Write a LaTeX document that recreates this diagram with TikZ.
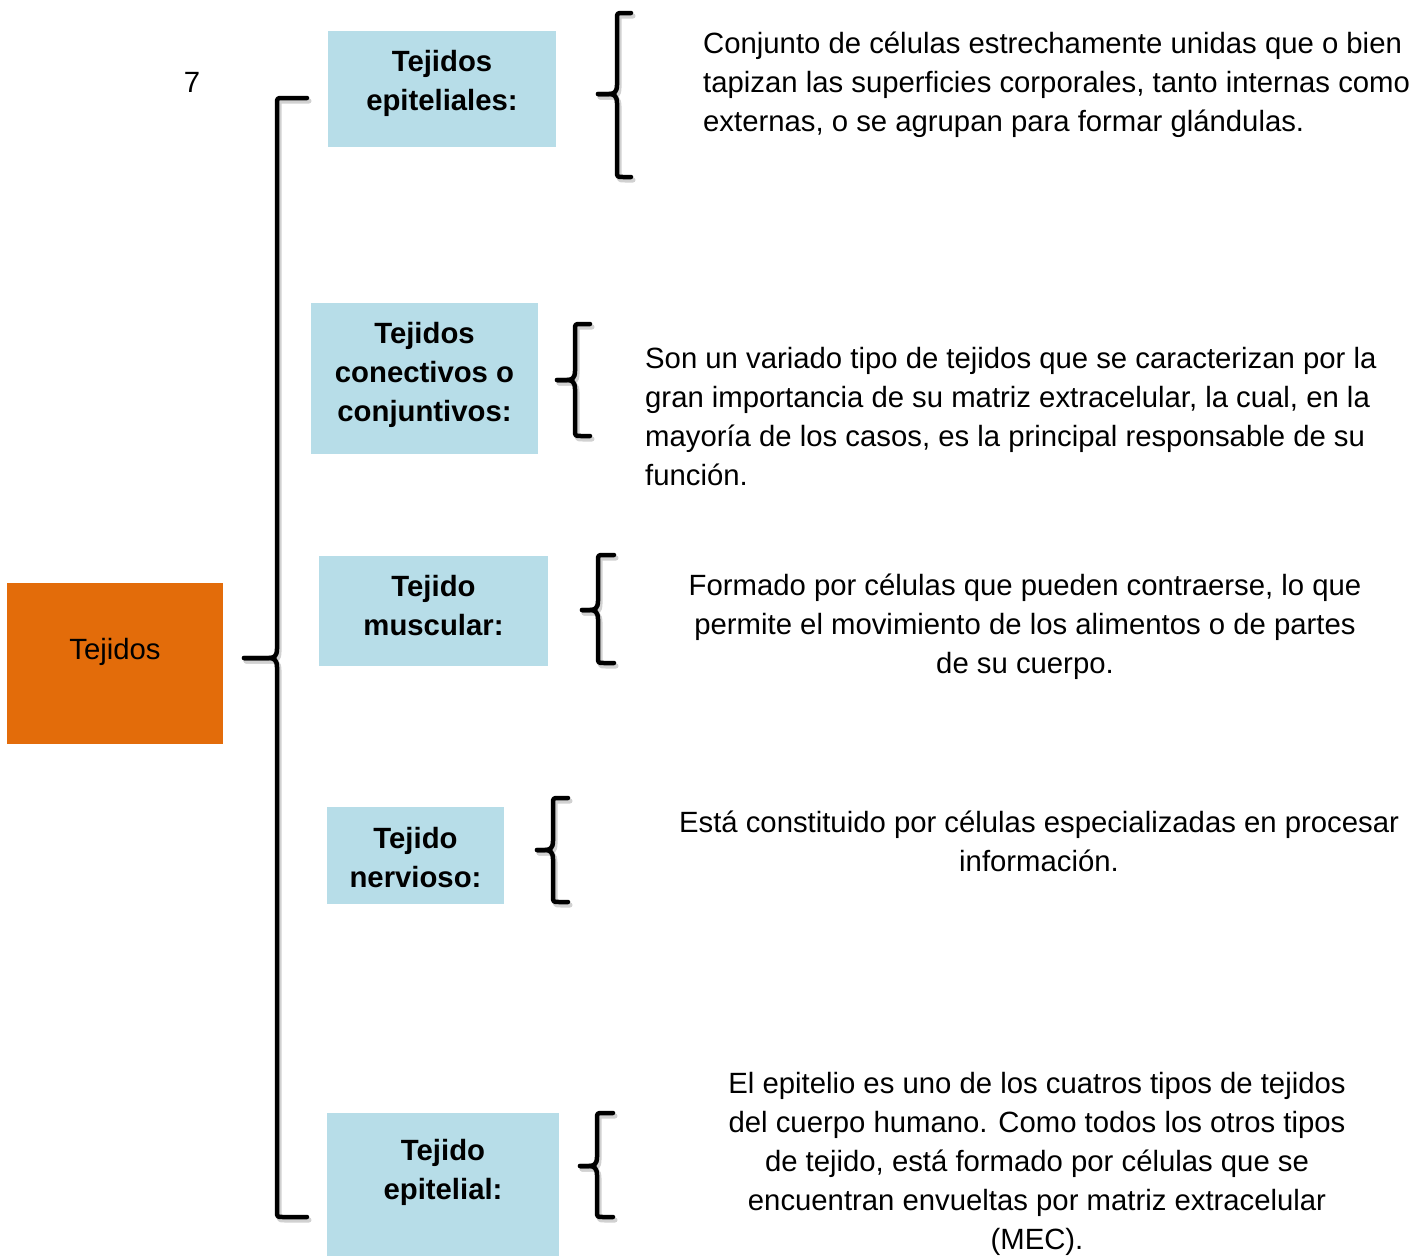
\documentclass[tikz,border=0pt]{standalone}
\usepackage{fontspec}
\setmainfont{Liberation Sans}
\definecolor{orng}{HTML}{E36C0A}
\definecolor{lblue}{HTML}{B7DDE8}
\tikzset{
  box/.style={fill=lblue, draw=none, inner sep=0pt},
  lbl/.style={font=\fontsize{29.3}{39}\selectfont\bfseries, align=center, inner sep=0pt, anchor=north},
  desc/.style={font=\fontsize{29.3}{39}\selectfont, inner sep=0pt},
  brc/.style={line width=4.5pt, line cap=round, line join=round, draw=black},
  brcshadow/.style={line width=5pt, line cap=round, line join=round, draw=black!18},
}
% #1 vertical x, #2 tip x, #3 end x, #4 top y, #5 mid y, #6 bottom y
\newcommand\mybracepath[7]{%
  \draw[#7] (#3,#4) -- ({#1+6},#4) .. controls (#1,#4) .. (#1,{#4+6})
     -- (#1,{#5-9}) .. controls (#1,{#5-2}) and ({#1-3},#5) .. ({#1-8},#5) -- (#2,#5);
  \draw[#7] (#2,#5) -- ({#1-8},#5) .. controls ({#1-3},#5) and (#1,{#5+2}) .. (#1,{#5+9})
     -- (#1,{#6-6}) .. controls (#1,#6) .. ({#1+6},#6) -- (#3,#6);
}
\newcommand\mybrace[6]{%
  \begin{scope}[shift={(2,3)}]\mybracepath{#1}{#2}{#3}{#4}{#5}{#6}{brcshadow}\end{scope}
  \mybracepath{#1}{#2}{#3}{#4}{#5}{#6}{brc}%
}
\begin{document}
\begin{tikzpicture}[x=1pt,y=-1pt]
\useasboundingbox (0,0) rectangle (1425,1256);

% root
\node[fill=orng, inner sep=0pt, minimum width=216pt, minimum height=161pt] (root) at (115,663.5) {};
\node[desc, anchor=base] (roottxt) at (115,659) {Tejidos};
\node[desc, anchor=base] (pagenum) at (192,92) {7};

% boxes
\node[box, minimum width=228pt, minimum height=116pt] (b1) at (442,89) {};
\node[box, minimum width=227pt, minimum height=151pt] (b2) at (424.5,378.5) {};
\node[box, minimum width=229pt, minimum height=110pt] (b3) at (433.5,611) {};
\node[box, minimum width=177pt, minimum height=97pt] (b4) at (415.5,855.5) {};
\node[box, minimum width=232pt, minimum height=143pt] (b5) at (443,1184.5) {};

\node[lbl] (l1) at (442,43.7) {\strut Tejidos\\epiteliales:};
\node[lbl] (l2) at (424.5,315.7) {\strut Tejidos\\conectivos o\\conjuntivos:};
\node[lbl] (l3) at (433.5,568.7) {\strut Tejido\\muscular:};
\node[lbl] (l4) at (415.5,820.7) {\strut Tejido\\nervioso:};
\node[lbl] (l5) at (443,1132.7) {\strut Tejido\\epitelial:};

% braces
\mybrace{277}{244}{307}{98}{658}{1217}
\mybrace{617}{598}{631}{13}{94}{177}
\mybrace{575}{557}{590}{324}{380}{436}
\mybrace{598}{582}{614}{555}{610}{663}
\mybrace{553}{537}{568}{798}{850}{902}
\mybrace{597}{580}{613}{1113}{1166}{1217}

% descriptions
\node[desc, align=left, anchor=north west] (d1) at (703,25.7)
  {\strut Conjunto de células estrechamente unidas que o bien\\tapizan las superficies corporales, tanto internas como\\externas, o se agrupan para formar glándulas.};
\node[desc, align=left, anchor=north west] (d2) at (645,340.7)
  {\strut Son un variado tipo de tejidos que se caracterizan por la\\gran importancia de su matriz extracelular, la cual, en la\\mayoría de los casos, es la principal responsable de su\\función.};
\node[desc, align=center, anchor=north] (d3) at (1025,567.7)
  {\strut Formado por células que pueden contraerse, lo que\\permite el movimiento de los alimentos o de partes\\de su cuerpo.};
\node[desc, align=center, anchor=north] (d4) at (1039,804.7)
  {\strut Está constituido por células especializadas en procesar\\información.};
\node[desc, align=center, anchor=north] (d5) at (1037,1065.7)
  {\strut El epitelio es uno de los cuatros tipos de tejidos\\del cuerpo humano. Como todos los otros tipos\\de tejido, está formado por células que se\\encuentran envueltas por matriz extracelular\\(MEC).};
\end{tikzpicture}
\end{document}
